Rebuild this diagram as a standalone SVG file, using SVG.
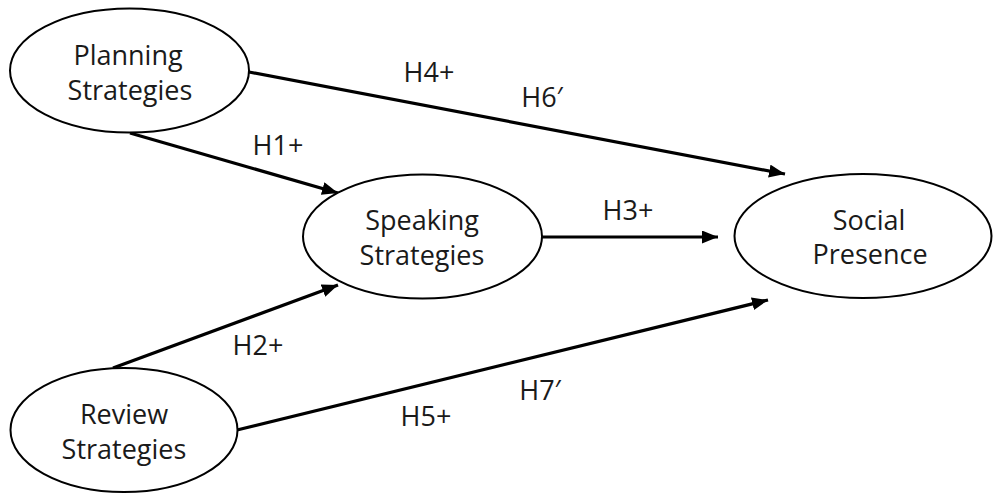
<svg xmlns="http://www.w3.org/2000/svg" width="993" height="493" viewBox="0 0 993 493">
<defs>
<style>
.node ellipse{fill:#fff;stroke:#000;stroke-width:2}
text{font-family:"Open Sans","Noto Sans","Liberation Sans",sans-serif;font-size:27px;fill:#1a1a1a;text-anchor:middle}
.edge{stroke:#000;stroke-width:3.2;fill:none;marker-end:url(#ah)}
</style>
<marker id="ah" markerUnits="userSpaceOnUse" markerWidth="18" markerHeight="14" refX="16" refY="6.5" orient="auto">
<path d="M0,0 L16,6.5 L0,13 Z" fill="#000"/>
</marker>
</defs>
<rect width="993" height="493" fill="#fff"/>
<g id="connectors">
<line class="edge" x1="249" y1="72" x2="785" y2="174"/>
<line class="edge" x1="130" y1="133" x2="338" y2="193"/>
<line class="edge" x1="542" y1="237" x2="718" y2="237"/>
<line class="edge" x1="113" y1="368" x2="338" y2="285"/>
<line class="edge" x1="237" y1="430" x2="768" y2="300"/>
</g>
<g id="labels">
<text x="429" y="82">H4+</text>
<text x="542" y="107">H6′</text>
<text x="278" y="155">H1+</text>
<text x="628" y="220">H3+</text>
<text x="258" y="355">H2+</text>
<text x="540" y="400">H7′</text>
<text x="426" y="426">H5+</text>
</g>
<g id="planning" class="node">
<ellipse cx="129.5" cy="70.5" rx="119.5" ry="62"/>
<text x="128" y="65">Planning</text>
<text x="130" y="100">Strategies</text>
</g>
<g id="speaking" class="node">
<ellipse cx="422.5" cy="236.5" rx="119.5" ry="62"/>
<text x="422" y="230">Speaking</text>
<text x="422" y="265">Strategies</text>
</g>
<g id="social" class="node">
<ellipse cx="863" cy="236" rx="128.5" ry="62"/>
<text x="869" y="230">Social</text>
<text x="870" y="264">Presence</text>
</g>
<g id="review" class="node">
<ellipse cx="124" cy="430" rx="113.5" ry="62"/>
<text x="124" y="424">Review</text>
<text x="124" y="459">Strategies</text>
</g>
</svg>
